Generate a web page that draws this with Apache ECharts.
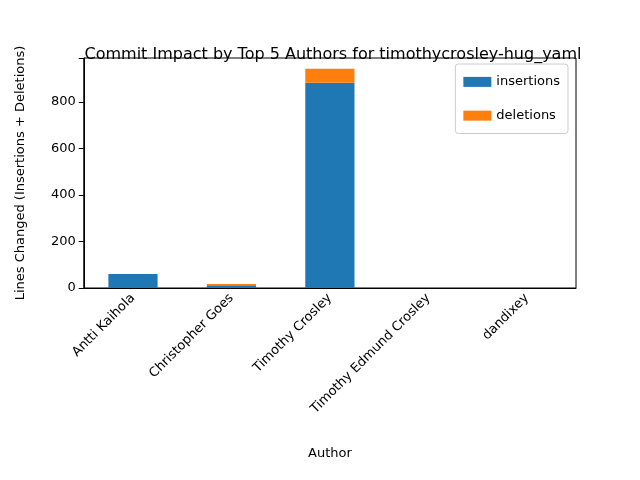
<!DOCTYPE html><html><head><script src="https://cdn.jsdelivr.net/npm/echarts@6/dist/echarts.min.js"></script></head><body style="margin:0"><div id="c" style="width:640px;height:480px"></div><script>
const categories=["Antti Kaihola","Christopher Goes","Timothy Crosley","Timothy Edmund Crosley","dandixey"];
const insertions=[60,12,882,0,0];
const deletions=[0,5,60,0,0];
const yTicks=[0,200,400,600,800];
const ch=echarts.init(document.getElementById('c'));
const f="DejaVu Sans";
ch.setOption({
title:{text:"Commit Impact by Top 5 Authors for timothycrosley-hug_yaml",left:328,top:34,textAlign:'center',textStyle:{fontFamily:f,fontSize:16,fontWeight:'normal',color:'#000'}},
legend:{right:72,top:64,orient:'vertical',itemWidth:28,itemHeight:10,itemGap:8,icon:'rect',borderColor:'#ccc',borderWidth:1,padding:[5,8],borderRadius:3,textStyle:{fontFamily:f,fontSize:13,color:'#000'}},
grid:{left:80,right:64,top:58,bottom:192,show:true,borderColor:'#000',borderWidth:1},
xAxis:{type:'category',data:categories,name:'Author',nameLocation:'middle',nameGap:153,nameTextStyle:{fontFamily:f,fontSize:13,color:'#000'},axisLine:{lineStyle:{color:'#000'}},axisTick:{alignWithLabel:true,lineStyle:{color:'#000'}},axisLabel:{rotate:45,interval:0,fontFamily:f,fontSize:13,color:'#000'}},
yAxis:{type:'value',min:0,max:988,interval:200,name:'Lines Changed (Insertions + Deletions)',nameLocation:'middle',nameGap:50,nameTextStyle:{fontFamily:f,fontSize:13,color:'#000'},axisLine:{show:true,lineStyle:{color:'#000'}},axisTick:{show:true,lineStyle:{color:'#000'}},splitLine:{show:false},axisLabel:{fontFamily:f,fontSize:13,color:'#000',formatter:v=>yTicks.includes(v)?v:''}},
series:[{name:'insertions',type:'bar',stack:'a',data:insertions,barWidth:'50%',itemStyle:{color:'#1f77b4'}},{name:'deletions',type:'bar',stack:'a',data:deletions,barWidth:'50%',itemStyle:{color:'#ff7f0e'}}]
});
</script></body></html>
